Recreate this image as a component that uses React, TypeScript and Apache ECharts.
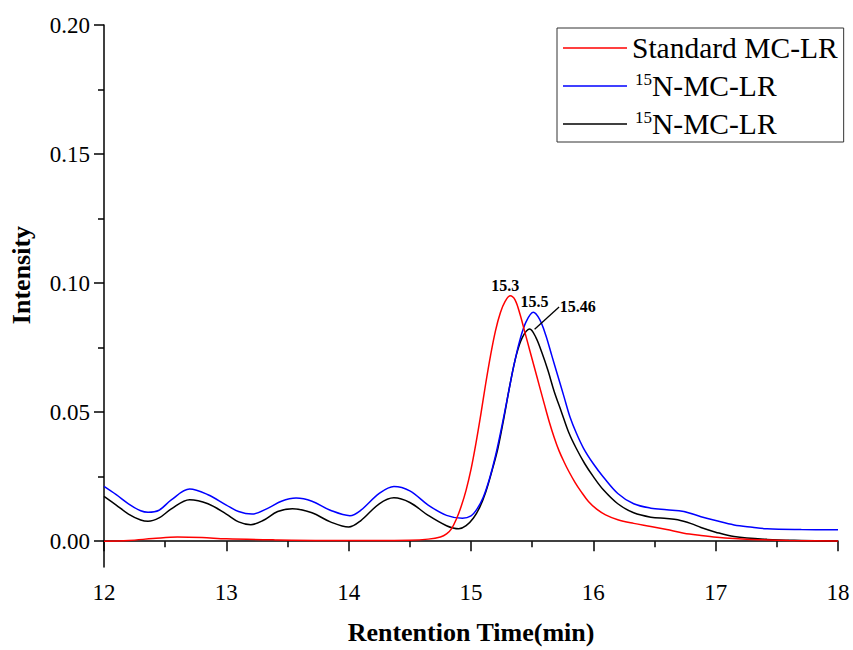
import React, { useEffect, useRef } from "react";
import * as echarts from "echarts";

const FONT = "Liberation Serif, serif";

const redX = [12.0, 12.2, 12.4, 12.6, 12.8, 13.0, 13.4, 13.8, 14.2, 14.5, 14.65, 14.75, 14.8, 14.84, 14.88, 14.92, 14.96, 15.0, 15.04, 15.08, 15.12, 15.16, 15.2, 15.24, 15.28, 15.32, 15.36, 15.4, 15.44, 15.48, 15.52, 15.56, 15.6, 15.64, 15.68, 15.72, 15.76, 15.8, 15.85, 15.9, 15.96, 16.03, 16.1, 16.2, 16.33, 16.47, 16.6, 16.74, 16.88, 17.01, 17.15, 17.29, 17.6, 18.0];
const redY = [0.0, 0.0003, 0.001, 0.0016, 0.0014, 0.0009, 0.0005, 0.0003, 0.0003, 0.0004, 0.0008, 0.0016, 0.0028, 0.0048, 0.0085, 0.0135, 0.0198, 0.0278, 0.0378, 0.049, 0.061, 0.072, 0.0815, 0.0885, 0.093, 0.0951, 0.0935, 0.088, 0.081, 0.074, 0.067, 0.06, 0.053, 0.0462, 0.0402, 0.035, 0.0308, 0.027, 0.0228, 0.0192, 0.0154, 0.0123, 0.0102, 0.0083, 0.0069, 0.0057, 0.0045, 0.0031, 0.0022, 0.0015, 0.001, 0.0007, 0.0003, 0.0001];

const blueX = [12.0, 12.1, 12.2, 12.3, 12.36, 12.45, 12.55, 12.7, 12.85, 13.0, 13.1, 13.21, 13.35, 13.45, 13.57, 13.7, 13.85, 14.01, 14.1, 14.25, 14.37, 14.5, 14.65, 14.8, 14.93, 15.0, 15.05, 15.1, 15.15, 15.2, 15.25, 15.3, 15.35, 15.4, 15.45, 15.51, 15.56, 15.61, 15.66, 15.71, 15.76, 15.81, 15.86, 15.92, 16.0, 16.08, 16.2, 16.33, 16.47, 16.6, 16.74, 16.88, 17.0, 17.15, 17.3, 17.42, 17.7, 18.0];
const blueY = [0.0212, 0.018, 0.0145, 0.0118, 0.0112, 0.012, 0.016, 0.0202, 0.018, 0.014, 0.0115, 0.0105, 0.013, 0.0155, 0.0167, 0.0155, 0.012, 0.0099, 0.012, 0.0185, 0.0212, 0.0195, 0.014, 0.01, 0.0089, 0.0098, 0.0125, 0.017, 0.024, 0.033, 0.044, 0.056, 0.068, 0.078, 0.085, 0.0887, 0.086, 0.08, 0.072, 0.064, 0.056, 0.048, 0.042, 0.036, 0.03, 0.025, 0.0185, 0.0145, 0.0128, 0.0122, 0.0115, 0.0095, 0.008, 0.0063, 0.0054, 0.0048, 0.0045, 0.0044];

const blackX = [12.0, 12.1, 12.2, 12.3, 12.36, 12.45, 12.55, 12.7, 12.85, 13.0, 13.1, 13.2, 13.3, 13.42, 13.54, 13.7, 13.85, 14.0, 14.1, 14.25, 14.37, 14.5, 14.65, 14.8, 14.9, 14.96, 15.02, 15.07, 15.12, 15.17, 15.22, 15.27, 15.32, 15.37, 15.42, 15.48, 15.53, 15.58, 15.63, 15.68, 15.74, 15.8, 15.86, 15.93, 16.0, 16.08, 16.2, 16.33, 16.47, 16.6, 16.69, 16.8, 16.88, 17.0, 17.15, 17.42, 17.7, 18.0];
const blackY = [0.0174, 0.014, 0.0105, 0.0082, 0.0077, 0.009, 0.0125, 0.0161, 0.0145, 0.0105, 0.0075, 0.0064, 0.008, 0.0115, 0.0126, 0.011, 0.0075, 0.0055, 0.008, 0.0145, 0.0168, 0.015, 0.01, 0.006, 0.0048, 0.006, 0.009, 0.013, 0.019, 0.027, 0.036, 0.048, 0.061, 0.072, 0.079, 0.0822, 0.079, 0.073, 0.066, 0.058, 0.05, 0.042, 0.036, 0.03, 0.025, 0.02, 0.0145, 0.011, 0.0093, 0.0088, 0.0083, 0.0068, 0.0053, 0.0035, 0.0018, 0.0007, 0.0003, 0.0001];

const seriesNames = ["Standard MC-LR", "15N-MC-LR", "15N-MC-LR "];
const seriesColors = ["#ff0000", "#0000ff", "#000000"];
const peakLabels = ["15.3", "15.5", "15.46"];
const peakX = [15.32, 15.51, 15.48];
const peakY = [0.0951, 0.0887, 0.0822];
const arrowFrom = [15.72, 0.0907];
const arrowTo = [15.52, 0.0821];

const yLabelValues = [0, 0.05, 0.1, 0.15, 0.2];
const yMinorValues = [0.025, 0.075, 0.125, 0.175];

const pairs = (xs: number[], ys: number[]) => xs.map((x, i) => [x, ys[i]]);

export default function App() {
  const ref = useRef<HTMLDivElement>(null);
  useEffect(() => {
    document.body.style.margin = "0";
    const chart = echarts.init(ref.current!, null, { renderer: "svg" });
    const datas = [pairs(redX, redY), pairs(blueX, blueY), pairs(blackX, blackY)];
    const labelOffsets = [[-5, -10], [1, -11], [48, -23]];
    const series: any[] = datas.map((d, i) => ({
      name: seriesNames[i],
      type: "line",
      data: d,
      symbol: "none",
      smooth: 0.35,
      lineStyle: { color: seriesColors[i], width: 1.5 },
      itemStyle: { color: seriesColors[i] },
      z: 5 - i,
      markPoint: {
        symbol: "circle",
        symbolSize: 0,
        silent: true,
        data: [{ coord: [peakX[i], peakY[i]], value: peakLabels[i] }],
        label: {
          show: true,
          formatter: peakLabels[i],
          offset: labelOffsets[i],
          color: "#000",
          fontFamily: FONT,
          fontWeight: "bold",
          fontSize: 16,
        },
      },
      ...(i === 2
        ? {
            markLine: {
              silent: true,
              symbol: ["none", "arrow"],
              symbolSize: [0, 12],
              label: { show: false },
              lineStyle: { color: "#000", width: 1.3, type: "solid" },
              data: [[{ coord: arrowFrom }, { coord: arrowTo }]],
            },
          }
        : {}),
    }));

    chart.setOption({
      animation: false,
      backgroundColor: "#fff",
      textStyle: { fontFamily: FONT },
      grid: { left: 101, right: 15, top: 25, bottom: 82 },
      legend: {
        orient: "vertical",
        left: 557,
        top: 28,
        padding: [5, 6, 3, 6],
        itemGap: 8,
        itemWidth: 64,
        itemHeight: 1.5,
        icon: "rect",
        borderColor: "#333",
        borderWidth: 1,
        data: seriesNames,
        formatter: (name: string) =>
          name === seriesNames[0] ? "{a|" + name + "}" : "{s|15}{a|N-MC-LR}",
        textStyle: {
          fontFamily: FONT,
          color: "#000",
          rich: {
            a: { fontSize: 29.5, lineHeight: 30, fontFamily: FONT, color: "#000" },
            s: { fontSize: 17, lineHeight: 18, fontFamily: FONT, color: "#000", verticalAlign: "top", padding: [0, 0, 0, 3] },
          },
        },
      },
      xAxis: {
        type: "value",
        min: 12,
        max: 18,
        interval: 1,
        name: "Rentention Time(min)",
        nameLocation: "middle",
        nameGap: 52,
        nameTextStyle: { fontFamily: FONT, fontWeight: "bold", fontSize: 26, color: "#000" },
        axisLine: { show: true, lineStyle: { color: "#000", width: 1.5 } },
        axisTick: { show: true, length: 10, lineStyle: { color: "#000", width: 1.5 } },
        minorTick: { show: true, splitNumber: 2, length: 6, lineStyle: { color: "#000", width: 1.5 } },
        axisLabel: { fontFamily: FONT, fontSize: 23, color: "#000", margin: 14 },
        splitLine: { show: false },
      },
      yAxis: [
        {
          type: "value",
          min: -0.01,
          max: 0.2,
          name: "Intensity",
          nameLocation: "middle",
          nameRotate: 90,
          nameGap: 70,
          nameTextStyle: { fontFamily: FONT, fontWeight: "bold", fontSize: 26, color: "#000", padding: [0, 0, 0, 42] },
          axisLine: { show: true, lineStyle: { color: "#000", width: 1.5 } },
          axisTick: { show: true, length: 10, customValues: yLabelValues, lineStyle: { color: "#000", width: 1.5 } },
          axisLabel: {
            fontFamily: FONT,
            fontSize: 23,
            color: "#000",
            margin: 14,
            customValues: yLabelValues,
            formatter: (v: number) => v.toFixed(2),
          },
          splitLine: { show: false },
        },
        {
          type: "value",
          min: -0.01,
          max: 0.2,
          position: "left",
          axisLine: { show: false },
          axisTick: { show: true, length: 6, customValues: yMinorValues, lineStyle: { color: "#000", width: 1.5 } },
          axisLabel: { show: false },
          splitLine: { show: false },
        },
      ],
      series,
    });
    return () => chart.dispose();
  }, []);
  return <div ref={ref} style={{ width: 853, height: 650 }} />;
}
